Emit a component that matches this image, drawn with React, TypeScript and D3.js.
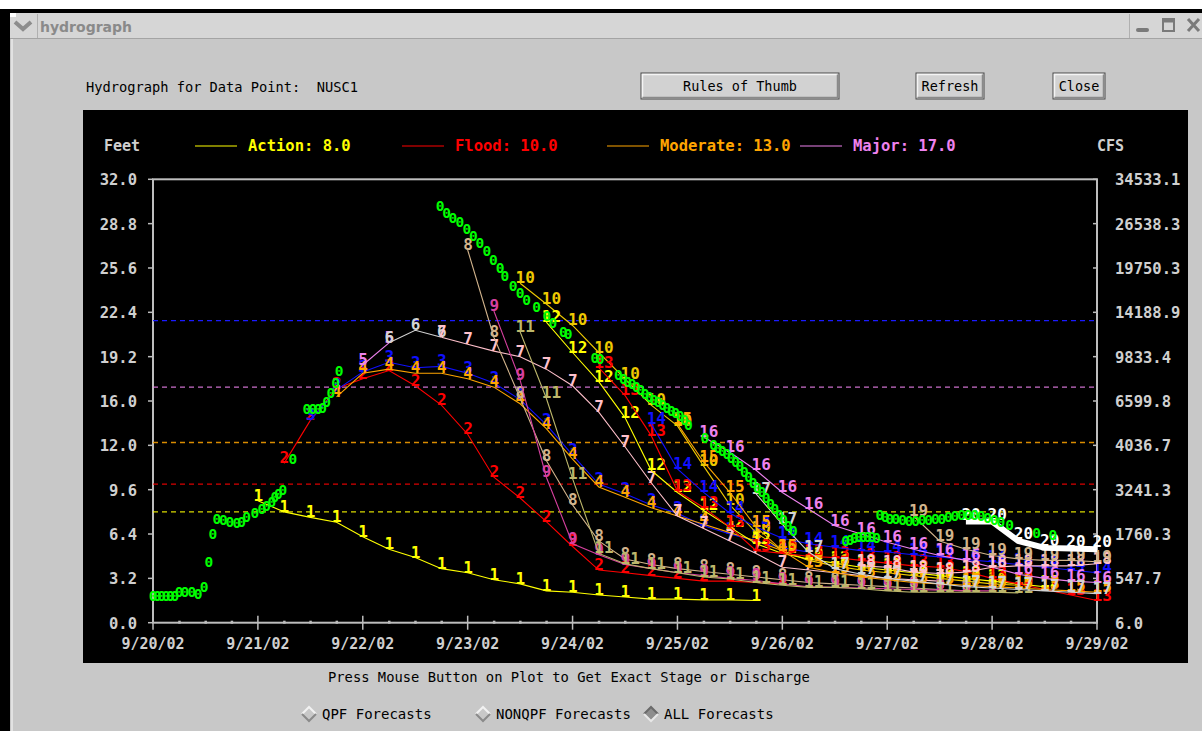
// @ts-nocheck
import React from "react";
import * as d3 from "d3";

// ---- data (hours since 9/20/02 00Z, stage in feet) ----
const dayLabels = ["9/20/02", "9/21/02", "9/22/02", "9/23/02", "9/24/02", "9/25/02", "9/26/02", "9/27/02", "9/28/02", "9/29/02"];
const stageTicks = [0, 3.2, 6.4, 9.6, 12.8, 16, 19.2, 22.4, 25.6, 28.8, 32];
const stageLabels = ["0.0", "3.2", "6.4", "9.6", "12.0", "16.0", "19.2", "22.4", "25.6", "28.8", "32.0"];
const cfsLabels = ["6.0", "547.7", "1760.3", "3241.3", "4036.7", "6599.8", "9833.4", "14188.9", "19750.3", "26538.3", "34533.1"];

const thresholds = [
  { name: "Action", value: 8.0, color: "#ffff00" },
  { name: "Flood", value: 10.0, color: "#ff0000" },
  { name: "Moderate", value: 13.0, color: "#ffa500" },
  { name: "Major", value: 17.0, color: "#ee82ee" },
];
const recordStage = 21.8;

const observed = [
  [0, 1.9], [1, 1.9], [2, 1.9], [3, 1.9], [4, 1.9], [5, 1.9],
  [6, 2.2], [7.3, 2.2], [8.9, 2.2], [10.3, 2.1], [11.7, 2.6], [12.8, 4.4], [13.7, 6.4],
  [14.6, 7.5], [16.1, 7.4], [17.6, 7.3], [19.2, 7.2], [20.3, 7.3], [21.4, 7.6], [23.3, 7.9],
  [24.9, 8.2], [26.0, 8.4], [27.2, 8.7], [27.9, 9.1], [28.7, 9.3], [29.7, 9.6],
  [32.0, 11.8],
  [35.2, 15.4], [36.6, 15.4], [37.8, 15.4], [38.8, 15.5], [39.7, 15.9], [40.7, 16.6], [41.8, 17.3], [42.6, 18.2],
  [65.7, 30.1], [67.2, 29.6], [68.6, 29.2], [70.2, 28.9], [71.8, 28.4], [73.3, 27.9], [74.8, 27.4],
  [76.4, 26.8], [77.9, 26.2], [79.4, 25.6], [80.5, 25.0],
  [82.4, 24.3], [84.0, 23.8], [85.5, 23.3], [87.8, 22.8], [90.1, 22.1], [91.5, 21.6], [93.9, 21.0], [95.0, 20.8],
  [101.1, 19.1], [102.3, 19.0], [106.5, 17.9], [107.6, 17.6], [108.6, 17.4], [109.6, 17.2], [110.6, 17.0],
  [111.6, 16.8], [112.6, 16.5], [113.6, 16.3], [114.6, 16.1], [115.6, 15.9], [116.6, 15.7], [117.6, 15.5],
  [118.6, 15.3], [119.6, 15.1], [120.6, 14.9], [121.6, 14.6], [122.5, 14.3],
  [126.3, 13.3], [128.3, 12.8], [129.3, 12.6], [130.3, 12.4], [131.3, 12.2], [132.3, 11.9], [133.3, 11.6],
  [134.3, 11.3], [135.3, 10.9], [136.3, 10.5], [137.3, 10.1], [138.3, 9.7], [139.3, 9.4], [140.3, 9.0],
  [141.3, 8.6], [142.3, 8.2], [143.3, 7.8], [144.3, 7.4], [145.3, 7.0], [146.5, 6.6],
  [158.5, 5.9], [159.5, 6.0], [160.5, 6.1], [161.5, 6.2], [162.5, 6.2], [163.5, 6.2], [164.5, 6.15], [165.6, 6.1],
  [166.3, 7.8], [167.5, 7.6], [168.6, 7.5], [170, 7.45], [171.5, 7.4], [173, 7.35], [174.5, 7.35], [176, 7.4],
  [177.5, 7.4], [179, 7.45], [180.5, 7.5], [182, 7.6], [183.5, 7.7], [185, 7.75], [186.5, 7.8], [188, 7.75],
  [189.5, 7.7], [191, 7.55], [192.5, 7.4], [194, 7.25], [196, 7.05], [202.2, 6.45], [205.9, 6.3],
];

const f1 = [[24, 8.8], [30, 8.0], [36, 7.6], [42, 7.25], [48, 6.2], [54, 5.3], [60, 4.7], [66, 3.9], [72, 3.6], [78, 3.1], [84, 2.8], [90, 2.3], [96, 2.2], [102, 2.0], [108, 1.85], [114, 1.7], [120, 1.7], [126, 1.65], [132, 1.65], [138, 1.6]];
const f2 = [[30, 11.5], [36, 14.6], [42, 16.9], [48, 17.6], [54, 18.2], [60, 17.1], [66, 15.7], [72, 13.6], [78, 10.5], [84, 9.0], [90, 7.3], [96, 5.5], [102, 3.8], [108, 3.6], [114, 3.4], [120, 3.2], [126, 3.0], [132, 3.0], [138, 2.9], [144, 2.8]];
const f3 = [[36, 14.6], [42, 16.8], [48, 18.1], [54, 18.8], [60, 18.4], [66, 18.5], [72, 18.0], [78, 17.3], [84, 16.1], [90, 14.3], [96, 12.1], [102, 10.0], [108, 9.3], [114, 8.5], [120, 7.9], [126, 7.0], [132, 6.4], [138, 5.9], [144, 5.4], [150, 5.1]];
const f4 = [[42, 16.3], [48, 18.0], [54, 18.3], [60, 18.0], [66, 18.0], [72, 17.6], [78, 17.0], [84, 15.8], [90, 14.0], [96, 11.8], [102, 9.8], [108, 9.05], [114, 8.3], [120, 7.7], [126, 7.1], [132, 6.5], [138, 5.9], [144, 5.2]];
const f5 = [[48, 18.6], [54, 20.2]];
const f6 = [[54, 20.2], [60, 21.1], [66, 20.6]];
const f7 = [[66, 20.6], [72, 20.1], [78, 19.6], [84, 19.2], [90, 18.3], [96, 17.1], [102, 15.2], [108, 12.7], [114, 10.1], [120, 7.7], [126, 6.8], [132, 5.9], [138, 5.0], [144, 4.0], [150, 3.8], [156, 3.6], [162, 3.4], [168, 3.2], [174, 3.1], [180, 3.0]];
const f8 = [[72, 26.9], [78, 20.6], [84, 16.2], [90, 11.7], [96, 8.5], [102, 5.9], [108, 4.6], [114, 4.2], [120, 3.9], [126, 3.7], [132, 3.5], [138, 3.3], [144, 3.1], [150, 2.9], [156, 2.8], [162, 2.7], [168, 2.6], [174, 2.5], [180, 2.4], [186, 2.3]];
const f9 = [[78, 22.5], [84, 17.5], [90, 10.5], [96, 5.7], [102, 4.9], [108, 4.2], [114, 3.9], [120, 3.6], [126, 3.4], [132, 3.2], [138, 3.05], [144, 2.8], [150, 2.6], [156, 2.55], [162, 2.5], [168, 2.45], [174, 2.4], [180, 2.35], [186, 2.3], [192, 2.3]];
const f10 = [[84, 24.5], [90, 23.0], [96, 21.45], [102, 19.5], [108, 17.6], [114, 15.7], [120, 14.2], [126, 11.3], [132, 8.5], [138, 6.5], [144, 5.2], [150, 4.5], [156, 4.1], [162, 3.8], [168, 3.6], [174, 3.4], [180, 3.2], [186, 3.0], [192, 2.8], [198, 2.7]];
const f11 = [[84, 21.0], [90, 16.2], [96, 10.4], [102, 5.0], [108, 4.25], [114, 3.9], [120, 3.6], [126, 3.3], [132, 3.15], [138, 2.9], [144, 2.7], [150, 2.55], [156, 2.55], [162, 2.45], [168, 2.3], [174, 2.2], [180, 2.2], [186, 2.2], [192, 2.2], [198, 2.15]];
const f12 = [[90, 21.7], [96, 19.5], [102, 17.4], [108, 14.8], [114, 11.0], [120, 9.4], [126, 8.1], [132, 6.9], [138, 5.7], [144, 5.0], [150, 4.6], [156, 4.3], [162, 4.0], [168, 3.8], [174, 3.6], [180, 3.4], [186, 3.2], [192, 3.0], [198, 2.8], [204, 2.6]];
const f13 = [[102, 18.4], [108, 16.4], [114, 13.5], [120, 9.5], [126, 8.3], [132, 6.9], [138, 5.2], [144, 5.0], [150, 4.8], [156, 4.7], [162, 4.5], [168, 4.3], [174, 4.1], [180, 4.0], [186, 3.7], [192, 3.2], [198, 2.8], [204, 2.4], [210, 2.0], [216, 1.6]];
const f14 = [[114, 14.35], [120, 11.1], [126, 9.4], [132, 7.9], [138, 6.9], [144, 6.1], [150, 5.7], [156, 5.45], [162, 5.2], [168, 5.1], [174, 4.9], [180, 4.75], [186, 4.55], [192, 4.4], [198, 4.2], [204, 4.0], [210, 3.8], [216, 3.6]];
const f15 = [[120, 14.35], [126, 11.6], [132, 9.4], [138, 6.9], [144, 5.2], [150, 4.0], [156, 3.6], [162, 3.3], [168, 3.1], [174, 2.9], [180, 2.8], [186, 2.7], [192, 2.6], [198, 2.5], [204, 2.4], [210, 2.3], [216, 2.2]];
const f16 = [[126, 13.4], [132, 12.3], [138, 11.0], [144, 9.4], [150, 8.2], [156, 7.0], [162, 6.4], [168, 5.8], [174, 5.3], [180, 4.85], [186, 4.5], [192, 4.0], [198, 3.5], [204, 3.2], [210, 3.0], [216, 2.9]];
const f17 = [[138, 9.3], [144, 7.1], [150, 5.1], [156, 3.9], [162, 3.5], [168, 3.2], [174, 3.0], [180, 2.8], [186, 2.6], [192, 2.5], [198, 2.4], [204, 2.3], [210, 2.2], [216, 2.1]];
const f18 = [[162, 4.1], [168, 4.0], [174, 3.65], [180, 3.55], [186, 3.65], [192, 4.0], [198, 4.1], [204, 4.1], [210, 4.1], [216, 4.25]];
const f19 = [[174, 7.7], [180, 5.9], [186, 5.3], [192, 4.85], [198, 4.6], [204, 4.5], [210, 4.5], [216, 4.4]];
const f20 = [[186, 7.3], [192, 7.3], [198, 5.9], [204, 5.4], [210, 5.35], [216, 5.3]];

const forecasts = [f1, f2, f3, f4, f5, f6, f7, f8, f9, f10, f11, f12, f13, f14, f15, f16, f17, f18, f19, f20];
const forecastColors = [
  "#ffff00", "#ff0000", "#1010ff", "#ffa500", "#ee82ee", "#d3d3d3", "#ffc0cb", "#d2b48c", "#d6409f", "#eec900",
  "#bdb76b", "#ffff00", "#ff0000", "#1010ff", "#ffa500", "#ee82ee", "#d3d3d3", "#ffc0cb", "#d2b48c", "#ffffff",
];

const mono = "'DejaVu Sans Mono', monospace";

const Button = ({ x0, y0, w, h, label }) => (
  <g>
    <rect x={x0} y={y0} width={w} height={h} fill="#d2d2d2" stroke="#4a4a4a" strokeWidth={1} />
    <path d={`M${x0 + 1.5},${y0 + h - 1.5}V${y0 + 1.5}H${x0 + w - 1.5}`} stroke="#f4f4f4" strokeWidth={1.5} fill="none" />
    <path d={`M${x0 + 1.5},${y0 + h - 1.5}H${x0 + w - 1.5}V${y0 + 1.5}`} stroke="#8a8a8a" strokeWidth={1.5} fill="none" />
    <text x={x0 + w / 2} y={y0 + h / 2 + 5} textAnchor="middle" fontFamily={mono} fontSize={13.5} fill="#000">{label}</text>
  </g>
);

const Radio = ({ cx, cy, label, on }) => (
  <g>
    <path d={`M${cx - 7},${cy}L${cx},${cy - 7}L${cx + 7},${cy}L${cx},${cy + 7}Z`} fill={on ? "#8e8e8e" : "#c8c8c8"} />
    <path d={`M${cx - 7},${cy}L${cx},${cy - 7}L${cx + 7},${cy}`} stroke={on ? "#6a6a6a" : "#f2f2f2"} strokeWidth={2} fill="none" />
    <path d={`M${cx - 7},${cy}L${cx},${cy + 7}L${cx + 7},${cy}`} stroke={on ? "#e8e8e8" : "#8a8a8a"} strokeWidth={2} fill="none" />
    <text x={cx + 13} y={cy + 5} fontFamily={mono} fontSize={14} fill="#000">{label}</text>
  </g>
);

export default function App() {
  const W = 1202, H = 731;
  const plot = { left: 153, right: 1097, top: 179.3, bottom: 622.7 };
  const x = d3.scaleLinear().domain([0, 216]).range([plot.left, plot.right]);
  const y = d3.scaleLinear().domain([0, 32]).range([plot.bottom, plot.top]);
  const line = d3.line().x((d) => x(d[0])).y((d) => y(d[1]));
  const minorTicks = d3.range(0, 217, 6).filter((h) => h % 24 !== 0);
  const majorTicks = d3.range(0, 217, 24);
  const legendX = [195, 402, 607, 800];
  const labelGray = "#cfcfcf";

  return (
    <svg width={W} height={H} viewBox={`0 0 ${W} ${H}`} style={{ position: "absolute", left: 0, top: 0 }}>
      {/* window chrome */}
      <rect x={0} y={0} width={W} height={H} fill="#ffffff" />
      <rect x={0} y={9} width={W} height={H - 9} fill="#000" />
      <rect x={10} y={13} width={W - 10} height={25} fill="#d6d6d6" />
      <rect x={10} y={13} width={6} height={4} fill="#fff" />
      <line x1={10} x2={W} y1={38.5} y2={38.5} stroke="#a4a4a4" />
      <rect x={10} y={39} width={W - 10} height={H - 39} fill="#c8c8c8" />
      <line x1={12} x2={12} y1={39} y2={H} stroke="#e2e2e2" strokeWidth={2} />
      <path d="M15,22L23,29L31,22" stroke="#8c8c8c" strokeWidth={4} fill="none" />
      <line x1={37.5} x2={37.5} y1={14} y2={38} stroke="#b0b0b0" />
      <text x={40} y={32} fontFamily="'DejaVu Sans', sans-serif" fontWeight="bold" fontSize={14} fill="#8a8a8a">hydrograph</text>
      <line x1={1129.5} x2={1129.5} y1={14} y2={38} stroke="#b0b0b0" />
      <rect x={1136} y={28} width={13} height={4} rx={2} fill="#7a7a7a" />
      <rect x={1163} y={19} width={11} height={12} fill="none" stroke="#7a7a7a" strokeWidth={2} />
      <line x1={1163} x2={1174} y1={21} y2={21} stroke="#7a7a7a" strokeWidth={3} />
      <path d="M1188,19L1199,31M1199,19L1188,31" stroke="#7a7a7a" strokeWidth={3} />

      {/* header */}
      <text x={86} y={92} fontFamily={mono} fontSize={13.7} fill="#000" xmlSpace="preserve">Hydrograph for Data Point:  NUSC1</text>
      <Button x0={641} y0={73} w={198} h={26} label="Rules of Thumb" />
      <Button x0={916} y0={73} w={68} h={26} label="Refresh" />
      <Button x0={1053} y0={73} w={52} h={26} label="Close" />

      {/* plot panel */}
      <rect x={83} y={110} width={1105} height={553} fill="#000" />
      <text x={104} y={151} fontFamily={mono} fontWeight="bold" fontSize={15} fill={labelGray}>Feet</text>
      <text x={1097} y={151} fontFamily={mono} fontWeight="bold" fontSize={15} fill={labelGray}>CFS</text>
      {thresholds.map((t, i) => (
        <g key={t.name}>
          <line x1={legendX[i]} x2={legendX[i] + 42} y1={146} y2={146} stroke={t.color} strokeWidth={1.2} />
          <text x={legendX[i] + 53} y={151} fontFamily={mono} fontWeight="bold" fontSize={15.5} fill={t.color}>
            {`${t.name}: ${t.value.toFixed(1)}`}
          </text>
        </g>
      ))}

      {/* frame and axes */}
      <rect x={plot.left} y={plot.top} width={plot.right - plot.left} height={plot.bottom - plot.top} fill="none" stroke="#bdbdbd" strokeWidth={2} />
      {stageTicks.map((v, i) => (
        <g key={v}>
          <line x1={plot.left - 5} x2={plot.left} y1={y(v)} y2={y(v)} stroke="#bdbdbd" strokeWidth={1.5} />
          <line x1={plot.right - 4} x2={plot.right} y1={y(v)} y2={y(v)} stroke="#bdbdbd" strokeWidth={1.5} />
          <text x={137} y={y(v) + 6} textAnchor="end" fontFamily={mono} fontWeight="bold" fontSize={15.5} fill={labelGray}>{stageLabels[i]}</text>
          <text x={1115} y={y(v) + 6} fontFamily={mono} fontWeight="bold" fontSize={15.5} fill={labelGray}>{cfsLabels[i]}</text>
        </g>
      ))}
      {majorTicks.map((h, i) => (
        <g key={h}>
          <line x1={x(h)} x2={x(h)} y1={plot.bottom - 7} y2={plot.bottom + 7} stroke="#bdbdbd" strokeWidth={1.5} />
          <text x={x(h)} y={649} textAnchor="middle" fontFamily={mono} fontWeight="bold" fontSize={15} fill={labelGray}>{dayLabels[i]}</text>
        </g>
      ))}
      {minorTicks.map((h) => (
        <rect key={h} x={x(h) - 1} y={plot.bottom - 2} width={2.5} height={3} fill="#bdbdbd" />
      ))}

      {/* threshold lines */}
      {thresholds.map((t) => (
        <line key={t.name} x1={plot.left} x2={plot.right} y1={y(t.value)} y2={y(t.value)} stroke={t.color} strokeWidth={1.4} strokeDasharray="5,4" opacity={0.85} />
      ))}
      <line x1={plot.left} x2={plot.right} y1={y(recordStage)} y2={y(recordStage)} stroke="#1a1aff" strokeWidth={1.4} strokeDasharray="5,4" />

      {/* forecasts */}
      {forecasts.map((pts, i) => (
        <g key={i}>
          <path d={line(pts)} fill="none" stroke={forecastColors[i]} strokeWidth={i === 19 ? 6 : 1.1} />
          {pts.map(([h, s], j) => (
            <text key={j} x={x(h) - 4.5} y={y(s) - (i === 19 ? 2 : 0)} fontFamily={mono} fontWeight="bold" fontSize={16} fill={forecastColors[i]}>
              {i + 1}
            </text>
          ))}
        </g>
      ))}

      {/* observed */}
      {observed.map(([h, s], j) => (
        <text key={j} x={x(h)} y={y(s) + 5} textAnchor="middle" fontFamily={mono} fontWeight="bold" fontSize={14.5} fill="#00ff00">0</text>
      ))}

      {/* footer */}
      <text x={328} y={682} fontFamily={mono} fontSize={13.8} fill="#000">Press Mouse Button on Plot to Get Exact Stage or Discharge</text>
      <Radio cx={309} cy={714} label="QPF Forecasts" on={false} />
      <Radio cx={483} cy={714} label="NONQPF Forecasts" on={false} />
      <Radio cx={651} cy={714} label="ALL Forecasts" on={true} />
    </svg>
  );
}
